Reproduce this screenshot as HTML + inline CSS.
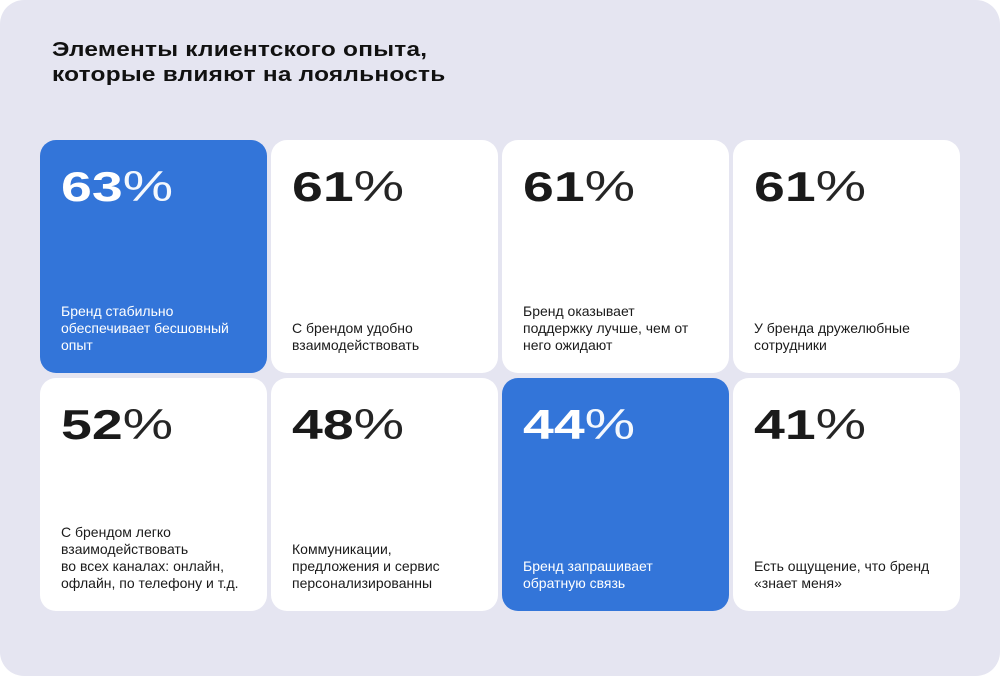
<!DOCTYPE html>
<html><head><meta charset="utf-8"><style>
html,body{margin:0;padding:0;background:#fff;}
.wrap{position:relative;width:1000px;height:676px;background:#e5e5f1;border-radius:24px;overflow:hidden;font-family:"Liberation Sans",sans-serif;}
.title{position:absolute;left:52px;top:38px;font-weight:bold;font-size:20px;line-height:25px;color:#111;transform:scaleX(1.22);transform-origin:left top;white-space:nowrap;letter-spacing:0.2px}
.card{position:absolute;width:227px;height:233px;background:#fff;border-radius:16px;color:#1a1a1a}
.card.b{background:#3375d9;color:#fff}
.num{position:absolute;left:21px;top:22px;font-size:42px;line-height:50px;white-space:nowrap;transform:scaleX(1.32);transform-origin:left top}
.num b{font-weight:bold}
.num span{font-weight:normal;font-size:43px;letter-spacing:-1px;opacity:.95}
.cap{position:absolute;left:21px;bottom:19px;font-size:14px;line-height:17px;width:182px}
</style></head><body><div class="wrap">
<div class="title">Элементы клиентского опыта,<br>которые влияют на лояльность</div>

<div class="card b" style="left:40px;top:140px"><div class="num"><b>63</b><span>%</span></div><div class="cap">Бренд стабильно обеспечивает бесшовный опыт</div></div>
<div class="card" style="left:271px;top:140px"><div class="num"><b>61</b><span>%</span></div><div class="cap">С брендом удобно<br>взаимодействовать</div></div>
<div class="card" style="left:502px;top:140px"><div class="num"><b>61</b><span>%</span></div><div class="cap">Бренд оказывает<br>поддержку лучше, чем от<br>него ожидают</div></div>
<div class="card" style="left:733px;top:140px"><div class="num"><b>61</b><span>%</span></div><div class="cap">У бренда дружелюбные сотрудники</div></div>

<div class="card" style="left:40px;top:378px"><div class="num"><b>52</b><span>%</span></div><div class="cap">С брендом легко взаимодействовать<br>во всех каналах: онлайн, офлайн, по телефону и т.д.</div></div>
<div class="card" style="left:271px;top:378px"><div class="num"><b>48</b><span>%</span></div><div class="cap">Коммуникации,<br>предложения и сервис персонализированны</div></div>
<div class="card b" style="left:502px;top:378px"><div class="num"><b>44</b><span>%</span></div><div class="cap">Бренд запрашивает<br>обратную связь</div></div>
<div class="card" style="left:733px;top:378px"><div class="num"><b>41</b><span>%</span></div><div class="cap">Есть ощущение, что бренд<br>«знает меня»</div></div>
</div></body></html>
